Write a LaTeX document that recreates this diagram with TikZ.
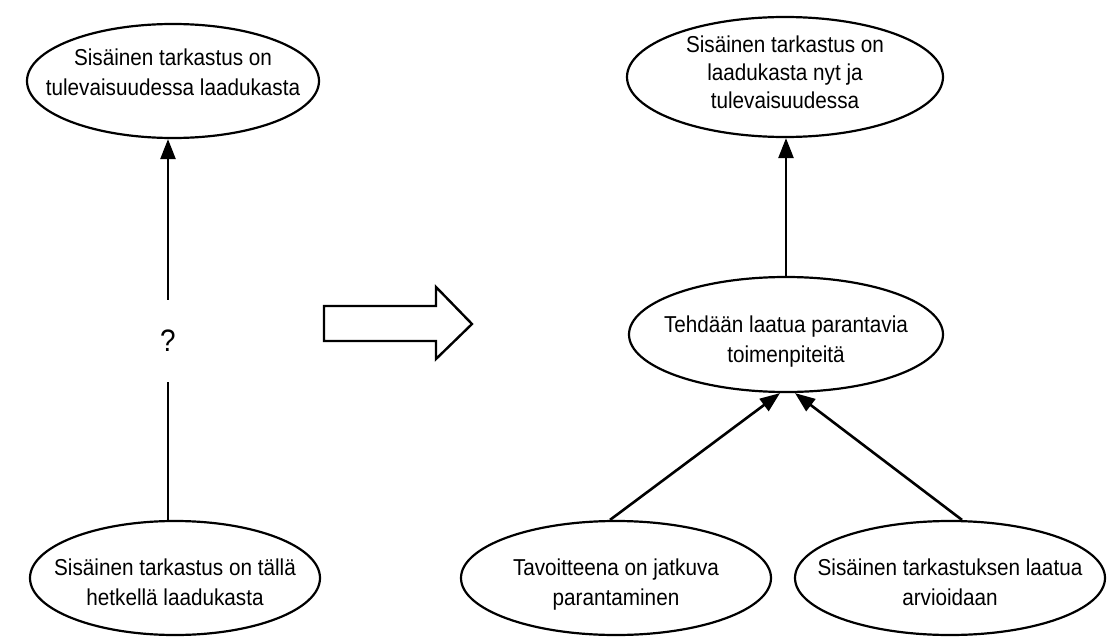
\documentclass[tikz,border=0pt]{standalone}
\usepackage{fontspec}
\setmainfont{Liberation Sans}[FakeStretch=0.9]
\usetikzlibrary{shapes.geometric,arrows.meta}
\begin{document}
\begin{tikzpicture}[x=1pt,y=-1pt,
  oval/.style={draw, ellipse, line width=2.2pt, inner sep=0pt},
  txt/.style={font=\fontsize{23}{30}\selectfont, inner sep=0pt},
  txtb/.style={font=\fontsize{23}{28}\selectfont, inner sep=0pt},
  qtxt/.style={font=\fontsize{31}{36}\selectfont, inner sep=0pt},
  conn/.style={line width=2.6pt},
  arr/.style={conn, -{Triangle[length=20pt,width=15pt]}}
]
\fill[white] (0,0) rectangle (1109,637);
\useasboundingbox (0,0) rectangle (1109,637);

\node[oval, minimum width=292pt, minimum height=114pt,
  label={[txt,yshift=7pt]center:{\begin{tabular}{@{}c@{}}Sisäinen tarkastus on\\tulevaisuudessa laadukasta\end{tabular}}}] (tl) at (173,81) {};
\node[oval, minimum width=290pt, minimum height=114pt,
  label={[txt,yshift=-6pt]center:{\begin{tabular}{@{}c@{}}Sisäinen tarkastus on tällä\\hetkellä laadukasta\end{tabular}}}] (bl) at (175,578) {};
\node[oval, minimum width=316pt, minimum height=120pt,
  label={[txtb,yshift=2.6pt]center:{\begin{tabular}{@{}c@{}}Sisäinen tarkastus on\\laadukasta nyt ja\\tulevaisuudessa\end{tabular}}}] (tr) at (785,77) {};
\node[oval, minimum width=314pt, minimum height=115pt,
  label={[txt,yshift=-6.5pt]center:{\begin{tabular}{@{}c@{}}Tehdään laatua parantavia\\toimenpiteitä\end{tabular}}}] (mid) at (786,334.5) {};
\node[oval, minimum width=310pt, minimum height=114pt,
  label={[txt,yshift=-6pt]center:{\begin{tabular}{@{}c@{}}Tavoitteena on jatkuva\\parantaminen\end{tabular}}}] (bll) at (616,578) {};
\node[oval, minimum width=310pt, minimum height=114pt,
  label={[txt,yshift=-6pt]center:{\begin{tabular}{@{}c@{}}Sisäinen tarkastuksen laatua\\arvioidaan\end{tabular}}}] (blr) at (950,578) {};

\node[qtxt, minimum height=82pt] (q) at (168,341) {?};

\draw[conn] (q.south) -- (q.south |- bl.north);
\draw[arr] (q.north) -- (q.north |- tl.south);
\draw[arr] (mid.north) -- (mid.north |- tr.south);

\coordinate (ml) at ([xshift=-6pt]mid.south);
\coordinate (mr) at ([xshift=9pt]mid.south);
\coordinate (sl) at ([xshift=-6pt]bll.north);
\coordinate (sr) at ([xshift=12pt]blr.north);
\draw[arr] (sl) -- (ml);
\draw[arr] (sr) -- (mr);

\draw[line width=2.4pt, line join=miter] (324,306) -- (436,306) -- (436,287) -- (472,324) -- (436,359) -- (436,341) -- (324,341) -- cycle;
\end{tikzpicture}
\end{document}
